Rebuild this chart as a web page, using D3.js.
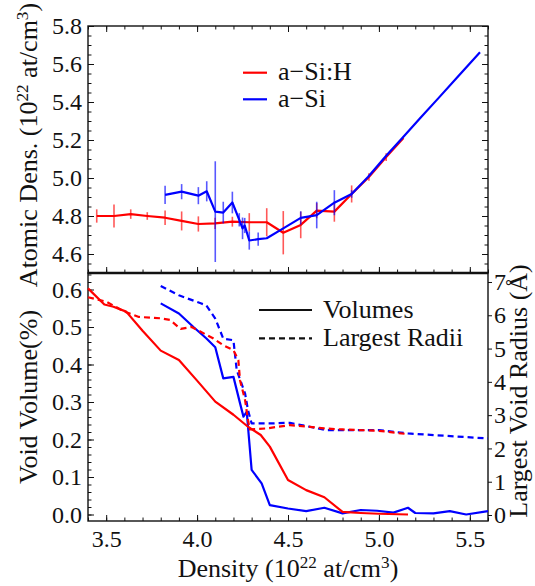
<!DOCTYPE html>
<html>
<head>
<meta charset="utf-8">
<script src="https://cdn.jsdelivr.net/npm/d3@7"></script>
<style>
  body { margin: 0; background: #fff; }
</style>
</head>
<body>
<div id="chart"></div>
<script>
// Top panel: atomic density of the a-Si:H and a-Si models (with error bars)
const xH   = [3.448, 3.543, 3.635, 3.726, 3.824, 3.915, 4.007, 4.099, 4.194, 4.287, 4.383, 4.474, 4.57, 4.658, 4.755, 4.85, 4.945, 5.04, 5.135];
const yH   = [4.80, 4.80, 4.81, 4.80, 4.791, 4.774, 4.758, 4.761, 4.77, 4.767, 4.767, 4.712, 4.753, 4.828, 4.823, 4.916, 5.005, 5.11, 5.21];
const errH = [0.035, 0.06, 0.025, 0.02, 0.038, 0.05, 0.04, 0.03, 0.026, 0.048, 0.074, 0.114, 0.07, 0.04, 0.053, 0.045, 0.02, 0.02, 0];

const xSi   = [3.824, 3.915, 4.007, 4.053, 4.10, 4.144, 4.194, 4.232, 4.25, 4.262, 4.287, 4.336, 4.383, 4.474, 4.57, 4.658, 4.755, 4.85, 4.94, 5.04, 5.13, 5.23, 5.33, 5.43, 5.556];
const ySi   = [4.911, 4.928, 4.907, 4.93, 4.823, 4.818, 4.871, 4.78, 4.735, 4.75, 4.671, 4.678, 4.683, 4.735, 4.79, 4.805, 4.87, 4.916, 5.005, 5.117, 5.212, 5.318, 5.423, 5.529, 5.662];
const errSi = [0.048, 0.04, 0.045, 0.053, 0.265, 0.057, 0.057, 0.035, 0.057, 0.04, 0.048, 0.035, 0, 0, 0.035, 0.07, 0.066, 0.02, 0, 0, 0, 0, 0, 0, 0];

// Bottom panel: void volume (%) and largest void radius (Å)
const volXH = [3.40, 3.49, 3.54, 3.61, 3.70, 3.80, 3.90, 4.00, 4.10, 4.20, 4.28, 4.35, 4.40, 4.50, 4.60, 4.70, 4.80, 4.90, 5.00, 5.16];
const volH  = [0.603, 0.560, 0.554, 0.541, 0.490, 0.437, 0.412, 0.357, 0.301, 0.266, 0.234, 0.212, 0.181, 0.092, 0.065, 0.046, 0.007, 0.004, 0.002, 0.0];

const volXSi = [3.80, 3.90, 3.98, 4.05, 4.10, 4.144, 4.20, 4.236, 4.255, 4.273, 4.28, 4.30, 4.355, 4.40, 4.50, 4.60, 4.70, 4.80, 4.90, 4.99, 5.08, 5.16, 5.20, 5.30, 5.39, 5.48, 5.60];
const volSi  = [0.563, 0.536, 0.50, 0.47, 0.446, 0.363, 0.367, 0.297, 0.261, 0.274, 0.234, 0.119, 0.083, 0.025, 0.016, 0.009, 0.018, 0.003, 0.012, 0.01, 0.005, 0.018, 0.004, 0.003, 0.009, 0.0, 0.009];

const radXH = [3.40, 3.50, 3.60, 3.68, 3.80, 3.85, 3.91, 3.97, 4.09, 4.144, 4.20, 4.227, 4.236, 4.264, 4.28, 4.29, 4.38, 4.51, 4.62, 4.70, 4.80, 5.00, 5.16];
const radH  = [6.54, 6.41, 6.11, 5.95, 5.91, 5.86, 5.59, 5.65, 5.30, 5.10, 4.95, 4.65, 4.05, 3.45, 2.85, 2.57, 2.60, 2.70, 2.65, 2.60, 2.57, 2.53, 2.43];

const radXSi = [3.80, 3.90, 4.02, 4.05, 4.10, 4.144, 4.20, 4.218, 4.264, 4.28, 4.30, 4.40, 4.51, 4.62, 4.71, 5.00, 5.16, 5.60];
const radSi  = [6.88, 6.60, 6.36, 6.30, 5.90, 5.30, 5.25, 4.35, 3.65, 3.15, 2.75, 2.75, 2.77, 2.65, 2.55, 2.55, 2.45, 2.30];

// Tick values and labels
const xTicks = [3.5, 4.0, 4.5, 5.0, 5.5];
const topTicks = [4.6, 4.8, 5.0, 5.2, 5.4, 5.6, 5.8];
const volTicks = [0, 0.1, 0.2, 0.3, 0.4, 0.5, 0.6];
const radTicks = [0, 1, 2, 3, 4, 5, 6, 7];
const seriesNames = ['a\u2212Si:H', 'a\u2212Si'];
const styleNames = ['Volumes', 'Largest Radii'];

const FONT = '"Times New Roman"';
const width = 535, height = 586;
const left = 88, right = 488, topY = 26, midY = 273, bottomY = 521;
const red = '#ff0000', blue = '#0000ff';

const svg = d3.select('#chart').append('svg')
  .attr('width', width)
  .attr('height', height)
  .attr('font-family', 'Times New Roman');

// Scales
const x = d3.scaleLinear().domain([3.4, 5.6]).range([left, right]);
const yTop = d3.scaleLinear().domain([4.5, 5.8]).range([midY, topY]);
const yVol = d3.scaleLinear().domain([-0.0173, 0.644]).range([bottomY, midY]);
const yRad = d3.scaleLinear().domain([-0.18, 7.27]).range([bottomY, midY]);

const round = v => Math.round(v * 1000) / 1000;
const xMinor = d3.range(34, 57).map(v => round(v / 10));
const topMinor = d3.range(90, 117).map(v => round(v * 0.05));
const volMinor = d3.range(0, 33).map(v => round(v * 0.02));

function styleAxis(g, fs) {
  g.attr('font-family', 'Times New Roman').attr('font-size', fs);
  g.select('.domain').remove();
  g.selectAll('line').attr('stroke', '#111').attr('stroke-width', 1);
  g.selectAll('text').attr('fill', '#111').style('font-family', FONT);
}

// Minor + major ticks helper
function ticks(axisFn, scale, major, minor, size, pos, fmt, pad) {
  svg.append('g').attr('transform', pos)
    .call(axisFn(scale).tickValues(minor).tickSize(size * 0.58).tickFormat(''))
    .call(g => styleAxis(g, 24));
  svg.append('g').attr('transform', pos)
    .call(axisFn(scale).tickValues(major).tickSize(size).tickPadding(pad).tickFormat(fmt))
    .call(g => styleAxis(g, 24));
}

// ---- Top panel ticks (all inward)
ticks(d3.axisLeft, yTop, topTicks, topMinor, -6, `translate(${left},0)`, d3.format('.1f'), 6);
ticks(d3.axisRight, yTop, topTicks, topMinor, -6, `translate(${right},0)`, '', 0);
ticks(d3.axisTop, x, xTicks, xMinor, -6, `translate(0,${topY})`, '', 0);
ticks(d3.axisBottom, x, xTicks, xMinor, -6, `translate(0,${midY})`, '', 0);

// ---- Bottom panel ticks
ticks(d3.axisLeft, yVol, volTicks, volMinor, -6, `translate(${left},0)`, d3.format('.1f'), 6);
ticks(d3.axisBottom, x, xTicks, xMinor, -6, `translate(0,${bottomY})`, d3.format('.1f'), 9);
svg.append('g').attr('transform', `translate(${right},0)`)
  .call(d3.axisRight(yRad).tickValues(radTicks).tickSize(4).tickPadding(2).tickFormat(d3.format('d')))
  .call(g => styleAxis(g, 24));

// Frames
svg.append('rect').attr('x', left).attr('y', topY).attr('width', right - left).attr('height', midY - topY)
  .attr('fill', 'none').attr('stroke', '#111').attr('stroke-width', 1.4);
svg.append('rect').attr('x', left).attr('y', midY).attr('width', right - left).attr('height', bottomY - midY)
  .attr('fill', 'none').attr('stroke', '#111').attr('stroke-width', 1.4);
svg.append('line').attr('x1', left).attr('x2', right).attr('y1', midY).attr('y2', midY)
  .attr('stroke', '#111').attr('stroke-width', 2.6);

// ---- Top panel data
const topLine = d3.line().x(d => x(d[0])).y(d => yTop(d[1]));

function drawSeries(xs, ys, errs, color) {
  const pts = d3.zip(xs, ys, errs);
  svg.append('g').selectAll('line')
    .data(pts.filter(d => d[2] > 0))
    .enter().append('line')
    .attr('x1', d => x(d[0])).attr('x2', d => x(d[0]))
    .attr('y1', d => yTop(d[1] - d[2])).attr('y2', d => yTop(d[1] + d[2]))
    .attr('stroke', color).attr('stroke-width', 1.6).attr('opacity', 0.65);
  svg.append('path').datum(pts)
    .attr('d', topLine)
    .attr('fill', 'none').attr('stroke', color).attr('stroke-width', 2.2)
    .attr('stroke-linejoin', 'round');
}
drawSeries(xH, yH, errH, red);
drawSeries(xSi, ySi, errSi, blue);

// Top legend
const legTop = svg.append('g');
[red, blue].forEach((c, i) => {
  const yy = 72.7 + i * 26.6;
  legTop.append('line').attr('x1', 243).attr('x2', 267).attr('y1', yy).attr('y2', yy)
    .attr('stroke', c).attr('stroke-width', 2.2);
  legTop.append('text').attr('x', 278).attr('y', yy + 7.5)
    .attr('font-size', 26).attr('fill', '#111')
    .style('font-family', FONT)
    .text(seriesNames[i]);
});

// ---- Bottom panel data
const volLine = d3.line().x(d => x(d[0])).y(d => yVol(d[1]));
const radLine = d3.line().x(d => x(d[0])).y(d => yRad(d[1]));

function curve(gen, xs, ys, color, dashed) {
  svg.append('path').datum(d3.zip(xs, ys))
    .attr('d', gen)
    .attr('fill', 'none').attr('stroke', color).attr('stroke-width', 2.2)
    .attr('stroke-linejoin', 'round')
    .attr('stroke-dasharray', dashed ? '6,4' : null);
}
curve(radLine, radXSi, radSi, blue, true);
curve(volLine, volXSi, volSi, blue, false);
curve(radLine, radXH, radH, red, true);
curve(volLine, volXH, volH, red, false);

// Bottom legend
styleNames.forEach((name, i) => {
  const yy = 310 + i * 28.3;
  svg.append('line').attr('x1', 259).attr('x2', 312).attr('y1', yy).attr('y2', yy)
    .attr('stroke', '#111').attr('stroke-width', 2.2)
    .attr('stroke-dasharray', i === 1 ? '6,4' : null);
  svg.append('text').attr('x', 323).attr('y', yy + 7.5)
    .attr('font-size', 26).attr('fill', '#111')
    .style('font-family', FONT)
    .text(name);
});

// ---- Axis titles with superscripts
function label(tx, ty, rot, parts, fs) {
  const t = svg.append('text')
    .attr('transform', `translate(${tx},${ty})` + (rot ? ' rotate(-90)' : ''))
    .attr('text-anchor', 'middle')
    .attr('fill', '#111')
    .attr('font-size', fs)
    .style('font-family', FONT);
  let shifted = false;
  parts.forEach(p => {
    const span = t.append('tspan').text(p[0]);
    if (p[1]) {
      span.attr('font-size', fs * 0.66).attr('dy', -fs * 0.36);
      shifted = true;
    } else if (shifted) {
      span.attr('dy', fs * 0.36);
      shifted = false;
    }
  });
}

const unitParts = [['(10', false], ['22', true], [' at/cm', false], ['3', true], [')', false]];
label(37, 145, true, [['Atomic Dens. ', false]].concat(unitParts), 26);
label(37, 397, true, [['Void Volume(%)', false]], 26);
label(527, 391, true, [['Largest Void Radius (\u00C5)', false]], 26);
label(288, 577, false, [['Density ', false]].concat(unitParts), 26);
</script>
</body>
</html>
